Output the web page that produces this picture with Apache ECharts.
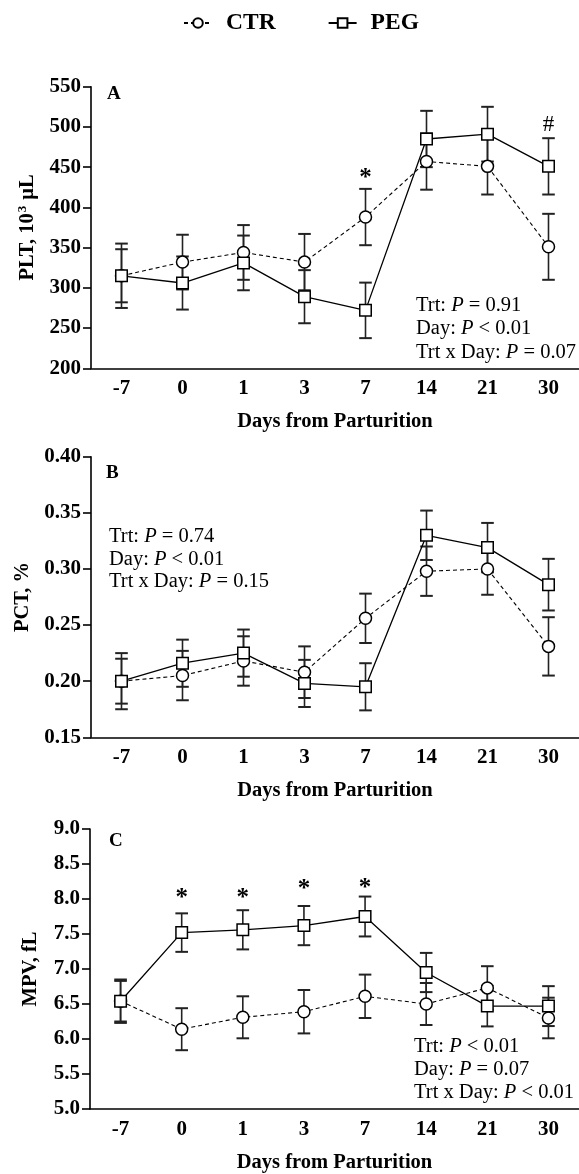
<!DOCTYPE html>
<html><head><meta charset="utf-8">
<script src="https://cdn.jsdelivr.net/npm/echarts@6/dist/echarts.min.js"></script>
<style>html,body{margin:0;padding:0;background:#fff}#c{width:579px;height:1174px}</style>
</head><body><div id="c"></div>
<script>
// ---------- data ----------
const days = ['-7', '0', '1', '3', '7', '14', '21', '30'];

const ctrPLT   = [315, 332, 344, 332, 388, 457, 451, 351];
const ctrPLTse = [40, 34, 34, 35, 35, 35, 35, 41];
const pegPLT   = [315, 306, 331, 289, 272, 485, 491, 451];
const pegPLTse = [33, 33, 34, 33, 34.5, 35, 34, 35];

const ctrPCT   = [0.200, 0.205, 0.218, 0.208, 0.256, 0.298, 0.300, 0.231];
const ctrPCTse = [0.025, 0.022, 0.022, 0.023, 0.022, 0.022, 0.023, 0.026];
const pegPCT   = [0.200, 0.216, 0.225, 0.198, 0.195, 0.330, 0.319, 0.286];
const pegPCTse = [0.020, 0.021, 0.021, 0.021, 0.021, 0.022, 0.022, 0.023];

const ctrMPV   = [6.54, 6.14, 6.31, 6.39, 6.61, 6.50, 6.73, 6.30];
const ctrMPVse = [0.31, 0.30, 0.30, 0.31, 0.31, 0.30, 0.31, 0.29];
const pegMPV   = [6.54, 7.52, 7.56, 7.62, 7.75, 6.95, 6.47, 6.47];
const pegMPVse = [0.29, 0.275, 0.28, 0.28, 0.285, 0.28, 0.29, 0.285];

const pltMarks = [{day: '7', y: 436, text: '*'}, {day: '30', y: 503, text: '#'}];
const pctMarks = [];
const mpvMarks = [{day: '0', y: 8.0, text: '*'}, {day: '1', y: 8.0, text: '*'}, {day: '3', y: 8.14, text: '*'}, {day: '7', y: 8.15, text: '*'}];

const yTicksPLT = {min: 200, max: 550, interval: 50, dec: 0};
const yTicksPCT = {min: 0.15, max: 0.40, interval: 0.05, dec: 2};
const yTicksMPV = {min: 5.0, max: 9.0, interval: 0.5, dec: 1};

const statsPLT = [['Trt: ', '= 0.91'], ['Day: ', '< 0.01'], ['Trt x Day: ', '= 0.07']];
const statsPCT = [['Trt: ', '= 0.74'], ['Day: ', '< 0.01'], ['Trt x Day: ', '= 0.15']];
const statsMPV = [['Trt: ', '< 0.01'], ['Day: ', '= 0.07'], ['Trt x Day: ', '< 0.01']];

// ---------- chart ----------
const FONT = 'Liberation Serif';
const chart = echarts.init(document.getElementById('c'));

const grids = [
  {left: 91, top: 86.7, width: 498.4, height: 281.6},
  {left: 91, top: 456.7, width: 498.4, height: 280.6},
  {left: 90, top: 829, width: 498.4, height: 281}
];

function xAxis(i) {
  return {
    type: 'category', gridIndex: i, data: days, boundaryGap: true,
    axisLine: {lineStyle: {color: '#000', width: 1.6}},
    axisTick: {alignWithLabel: true, length: 8, lineStyle: {color: '#000', width: 1.6}},
    axisLabel: {margin: 10, color: '#000', fontFamily: FONT, fontWeight: 'bold', fontSize: 21},
    name: 'Days from Parturition', nameLocation: 'middle', nameGap: 43,
    nameTextStyle: {color: '#000', fontFamily: FONT, fontWeight: 'bold', fontSize: 20.5}
  };
}
function yAxis(i, t, name, gap, rich) {
  return {
    type: 'value', gridIndex: i, min: t.min, max: t.max, interval: t.interval,
    axisLine: {show: true, lineStyle: {color: '#000', width: 1.6}},
    axisTick: {show: true, length: 8, lineStyle: {color: '#000', width: 1.6}},
    splitLine: {show: false},
    axisLabel: {margin: 10, color: '#000', fontFamily: FONT, fontWeight: 'bold', fontSize: 21,
      formatter: v => Number(v).toFixed(t.dec)},
    name: name, nameLocation: 'middle', nameGap: gap,
    nameTextStyle: Object.assign({color: '#000', fontFamily: FONT, fontWeight: 'bold', fontSize: 20.5}, rich ? {rich: rich} : {})
  };
}

function lineSeries(name, i, vals, symbol, dashed) {
  return {
    type: 'line', name: name, xAxisIndex: i, yAxisIndex: i, data: vals, z: 3,
    symbol: symbol, symbolSize: symbol === 'rect' ? 11.5 : 12,
    lineStyle: {color: '#000', width: dashed ? 1.1 : 1.3, type: dashed ? [4, 3] : 'solid'},
    itemStyle: {color: '#fff', borderColor: '#000', borderWidth: 1.5},
    emphasis: {disabled: true}, silent: true
  };
}
function errSeries(name, i, vals, ses) {
  return {
    type: 'custom', name: name, xAxisIndex: i, yAxisIndex: i, z: 2, silent: true,
    data: vals.map((m, k) => [k, m - ses[k], m + ses[k]]),
    renderItem: (params, api) => {
      const x = api.value(0);
      const lo = api.coord([x, api.value(1)]);
      const hi = api.coord([x, api.value(2)]);
      const hw = 6.3;
      const s = {stroke: '#222', lineWidth: 1.6};
      const c = {stroke: '#222', lineWidth: 2};
      return {type: 'group', children: [
        {type: 'line', shape: {x1: lo[0], y1: lo[1], x2: hi[0], y2: hi[1]}, style: s},
        {type: 'line', shape: {x1: lo[0] - hw, y1: lo[1], x2: lo[0] + hw, y2: lo[1]}, style: c},
        {type: 'line', shape: {x1: hi[0] - hw, y1: hi[1], x2: hi[0] + hw, y2: hi[1]}, style: c}
      ]};
    }
  };
}
function markSeries(i, marks) {
  return {
    type: 'custom', name: 'marks' + i, xAxisIndex: i, yAxisIndex: i, z: 4, silent: true,
    data: marks.map(m => [days.indexOf(m.day), m.y]),
    renderItem: (params, api) => {
      const p = api.coord([api.value(0), api.value(1)]);
      const m = marks[params.dataIndex];
      return {type: 'text', x: p[0], y: p[1], style: {
        text: m.text, fill: '#000', align: 'center', verticalAlign: 'middle',
        fontFamily: FONT, fontWeight: m.text === '*' ? 'bold' : 'normal', fontSize: m.text === '*' ? 25 : 23}};
    }
  };
}
function statsText(x, y, lines, lh) {
  const txt = lines.map(l => '{r|' + l[0] + '}{i|P}{r| ' + l[1] + '}').join('\n');
  return {type: 'text', x: x, y: y, z: 10, style: {
    text: txt, fill: '#000', align: 'left', verticalAlign: 'top',
    rich: {
      r: {fontFamily: FONT, fontSize: 20.5, lineHeight: lh, fill: '#000'},
      i: {fontFamily: FONT, fontSize: 20.5, fontStyle: 'italic', lineHeight: lh, fill: '#000'}
    }}};
}
function letter(x, y, t) {
  return {type: 'text', x: x, y: y, z: 10, style: {text: t, fill: '#000', align: 'left', verticalAlign: 'middle',
    fontFamily: FONT, fontWeight: 'bold', fontSize: 19}};
}

const option = {
  backgroundColor: '#fff',
  animation: false,
  grid: grids,
  legend: {
    data: ['CTR', 'PEG'], left: 183, top: 11, padding: 0, itemWidth: 28, itemHeight: 12, itemGap: 52,
    textStyle: {color: '#000', fontFamily: FONT, fontWeight: 'bold', fontSize: 23.5, padding: [0, 0, 0, 9]},
    selectedMode: false
  },
  xAxis: [xAxis(0), xAxis(1), xAxis(2)],
  yAxis: [
    yAxis(0, yTicksPLT, 'PLT, 10{sup|3} μL', 50, {sup: {fontFamily: FONT, fontWeight: 'bold', fontSize: 13, verticalAlign: 'top', padding: [0, 1, 10, 1]}}),
    yAxis(1, yTicksPCT, 'PCT, %', 58),
    yAxis(2, yTicksMPV, 'MPV, fL', 49)
  ],
  series: [
    errSeries('CTR err', 0, ctrPLT, ctrPLTse), errSeries('PEG err', 0, pegPLT, pegPLTse),
    lineSeries('CTR', 0, ctrPLT, 'circle', true), lineSeries('PEG', 0, pegPLT, 'rect', false),
    markSeries(0, pltMarks),
    errSeries('CTR err', 1, ctrPCT, ctrPCTse), errSeries('PEG err', 1, pegPCT, pegPCTse),
    lineSeries('CTR', 1, ctrPCT, 'circle', true), lineSeries('PEG', 1, pegPCT, 'rect', false),
    markSeries(1, pctMarks),
    errSeries('CTR err', 2, ctrMPV, ctrMPVse), errSeries('PEG err', 2, pegMPV, pegMPVse),
    lineSeries('CTR', 2, ctrMPV, 'circle', true), lineSeries('PEG', 2, pegMPV, 'rect', false),
    markSeries(2, mpvMarks)
  ],
  graphic: [
    letter(107, 94, 'A'), letter(106, 473, 'B'), letter(109, 841.5, 'C'),
    statsText(416, 293.5, statsPLT, 23.5),
    statsText(109, 525.5, statsPCT, 22.5),
    statsText(414, 1034.5, statsMPV, 23.3)
  ]
};
chart.setOption(option);
</script>
</body></html>
